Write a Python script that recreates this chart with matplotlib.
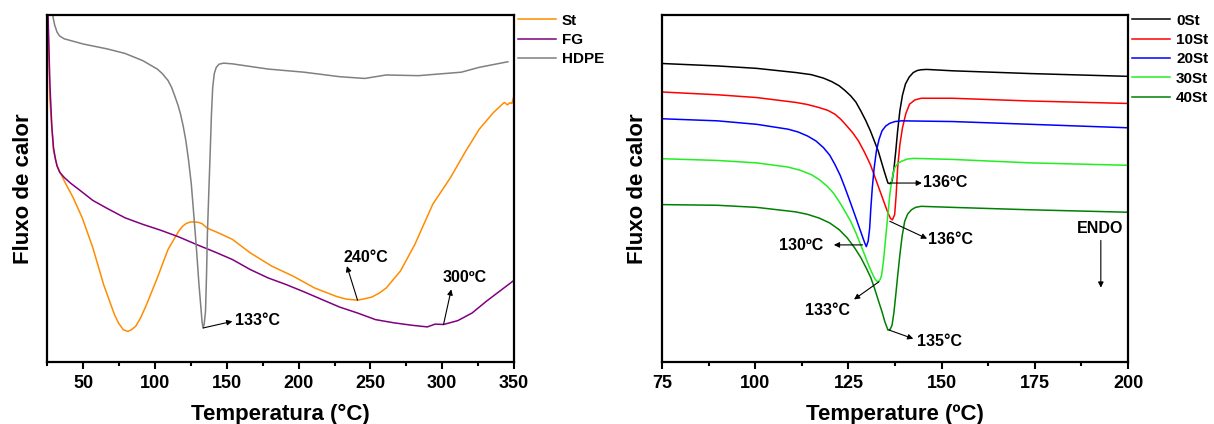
import matplotlib
matplotlib.use("Agg")
import matplotlib.pyplot as plt
from matplotlib.ticker import MultipleLocator

plt.rcParams['font.family'] = ['Liberation Sans', 'DejaVu Sans']
plt.rcParams['font.weight'] = 'bold'

# ---- left panel: raw materials (heat flow, arbitrary units 0-100) ----
hdpe_t = [27.5, 29, 30, 31.7, 33.5, 36.7, 50, 66.6, 79, 91.5, 101.5, 105, 109, 111.5, 114,
          116, 117.7, 119.5, 121.4, 123.3, 125.2, 127, 128.9, 130.5, 131.9, 132.7, 133.4,
          134.2, 135.1, 135.8, 136.4, 137.4, 138.4, 139.2, 140.1, 141.2, 142.6, 144.5,
          147.6, 153.8, 178.7, 203.7, 228.6, 246, 261, 283.4, 313.3, 325.8, 345.7]
hdpe_y = [104, 99, 97, 94.9, 93.8, 93.0, 91.5, 90.1, 88.8, 86.7, 84.3, 83.0, 81.0, 79.0, 76.2,
          73.8, 71.3, 68.0, 63.7, 58.0, 51.2, 42.0, 31.9, 22.5, 15.6, 11.5, 9.8,
          11.0, 14.6, 25.0, 36.7, 49.0, 60.8, 71.0, 79.0, 83.0, 84.8, 85.7,
          86.0, 85.8, 84.3, 83.4, 82.1, 81.6, 82.6, 82.4, 83.4, 84.8, 86.4]

st_t = [25, 26.7, 29.2, 31.7, 36.7, 42.9, 49.2, 56.6, 64.1, 71.6, 74.5, 77.8, 81, 83.5,
        86.5, 90, 94, 101.5, 109, 116.5, 119, 121.4, 124.5, 127.7, 130, 132.7, 136.4,
        143.9, 153.8, 166.3, 181.2, 196.2, 211.1, 226.1, 233, 241, 246, 251, 256, 261,
        270.9, 280.9, 293.4, 305.8, 315.8, 325.8, 335.7, 343.2, 345.5, 347, 348.5, 350]
st_y = [105, 75.2, 60.8, 56.4, 52.1, 47.3, 41.5, 32.9, 22.3, 13.7, 11.2, 9.3, 8.8, 9.3,
        10.3, 12.8, 16.5, 24.2, 32.4, 37.7, 39.0, 39.8, 40.3, 40.3, 40.2, 39.8, 38.5,
        37.2, 35.3, 31.4, 27.6, 24.7, 21.3, 18.9, 18.1, 17.8, 18.2, 18.7, 19.8, 21.3,
        26.2, 33.8, 45.4, 53.1, 60.3, 67.0, 71.8, 74.7, 74.0, 74.6, 74.4, 76.6]

fg_t = [25, 26.7, 28, 29.2, 30.5, 31.7, 33.5, 36.7, 41, 46.7, 56.6, 66.6, 79, 91.5, 104,
        116.5, 128.9, 141.4, 153.8, 166.3, 178.7, 191.2, 203.7, 216.1, 228.6, 241, 253.5,
        266, 278.4, 289.6, 295, 300.9, 310.8, 320.8, 330.8, 340.7, 350]
fg_y = [106, 80.0, 68.0, 61.7, 58.5, 56.4, 54.6, 53.1, 51.5, 49.7, 46.5, 44.2, 41.5, 39.6,
        37.9, 36.0, 33.8, 31.7, 29.5, 26.6, 24.2, 22.3, 20.2, 18.0, 15.8, 14.1, 12.2,
        11.3, 10.6, 10.1, 10.9, 10.8, 11.9, 14.1, 17.5, 20.6, 23.5]

# ---- right panel: HDPE/St blends ----
s0_t = [75, 89.9, 100.4, 110.9, 115, 118.3, 120.5, 122.5, 124, 125.6, 127, 128.3, 129.6,
        130.9, 133, 134.6, 135.6, 136.2, 136.7, 137.2, 137.7, 138.2, 138.8, 139.5, 140.3,
        141.3, 142.4, 143.5, 144.5, 146, 152.9, 173.9, 200]
s0_y = [85.9, 85.2, 84.5, 83.3, 82.7, 81.7, 80.7, 79.5, 78.2, 76.6, 74.8, 72.3, 69.6,
        66.5, 60.7, 54.9, 51.5, 51.3, 52.0, 55.5, 60.7, 66.5, 72.3, 76.8, 80.0,
        82.0, 83.3, 83.9, 84.1, 84.2, 83.8, 83.0, 82.2]

s10_t = [75, 89.9, 100.4, 110.9, 114, 117.2, 119.5, 121.4, 123, 124.6, 126.2, 127.7, 129.3,
         130.9, 133.5, 135.6, 136.3, 136.8, 137.4, 137.8, 138.2, 138.8, 139.5, 140.4,
         141.4, 142.8, 144.5, 152.9, 173.9, 200]
s10_y = [77.7, 76.9, 76.1, 74.7, 74.1, 73.2, 72.4, 71.3, 69.8, 67.9, 65.9, 63.6, 60.4,
         56.8, 49.1, 42.9, 41.3, 40.9, 42.4, 48.0, 55.9, 62.5, 67.4, 71.5,
         74.2, 75.4, 75.9, 75.9, 75.1, 74.4]

s20_t = [75, 89.9, 100.4, 108.8, 111.5, 114.1, 116.3, 118.3, 120, 121.4, 122.8, 124.1,
         125.4, 126.7, 128.6, 129.4, 129.8, 130.3, 130.7, 131, 131.4, 131.9, 132.5, 133.2,
         134, 135, 136.1, 137.5, 139.3, 152.9, 173.9, 200]
s20_y = [70.0, 69.4, 68.4, 67.0, 66.2, 65.0, 63.6, 61.7, 59.5, 56.8, 53.7, 50.1,
         46.3, 42.4, 36.6, 34.2, 33.2, 34.8, 38.5, 44.0, 50.1, 55.8, 60.7, 64.0,
         66.5, 67.9, 68.7, 69.2, 69.4, 69.2, 68.4, 67.4]

s30_t = [75, 89.9, 100.4, 108.8, 112, 115.1, 117.3, 119.3, 121, 122.5, 124, 125.6, 127,
         128.3, 129.4, 130.4, 131.3, 132, 132.6, 133, 133.5, 133.9, 134.4, 134.9, 135.5,
         136.1, 136.7, 137.4, 138.3, 139.3, 140.8, 142.4, 152.9, 173.9, 200]
s30_y = [58.5, 58.0, 57.3, 56.1, 55.2, 53.9, 52.4, 50.6, 48.6, 46.2, 43.5, 40.5, 37.2,
         33.7, 30.7, 27.9, 25.7, 24.1, 23.3, 23.1, 23.7, 25.0, 29.0, 34.7, 41.5,
         48.2, 52.8, 55.9, 57.2, 57.8, 58.4, 58.6, 58.3, 57.3, 56.6]

s40_t = [75, 89.9, 100.4, 110.9, 114, 117.2, 120, 122.5, 124.7, 126.7, 128.3, 129.8, 131,
         132, 133, 134, 134.8, 135.6, 136.2, 136.7, 137.2, 137.7, 138.2, 138.8, 139.4,
         140.1, 140.9, 141.9, 143, 144.5, 152.9, 173.9, 200]
s40_y = [45.3, 45.1, 44.5, 43.2, 42.5, 41.4, 40.0, 38.1, 35.7, 32.8, 30.1, 27.0, 24.3,
         21.2, 17.8, 14.5, 11.5, 9.2, 9.4, 10.6, 14.2, 19.3, 24.7, 30.8, 36.2,
         40.5, 42.6, 43.8, 44.5, 44.8, 44.5, 43.8, 43.1]

fig = plt.figure(figsize=(12.14, 4.24), dpi=100)
ax1 = fig.add_axes([0.0391, 0.1462, 0.3843, 0.8196])
ax2 = fig.add_axes([0.5453, 0.1462, 0.3839, 0.8196])

ax1.plot(st_t, st_y, color='#FF8C00', lw=1.1, label='St')
ax1.plot(fg_t, fg_y, color='#800080', lw=1.1, label='FG')
ax1.plot(hdpe_t, hdpe_y, color='#808080', lw=1.1, label='HDPE')

ax2.plot(s0_t, s0_y, color='black', lw=1.1, label='0St')
ax2.plot(s10_t, s10_y, color='#FF0000', lw=1.1, label='10St')
ax2.plot(s20_t, s20_y, color='#0000FF', lw=1.1, label='20St')
ax2.plot(s30_t, s30_y, color='#22EE22', lw=1.1, label='30St')
ax2.plot(s40_t, s40_y, color='#008000', lw=1.1, label='40St')

ax1.set_xlim(25, 350)
ax2.set_xlim(75, 200)
ax1.xaxis.set_major_locator(MultipleLocator(50))
ax1.xaxis.set_minor_locator(MultipleLocator(25))
ax2.xaxis.set_major_locator(MultipleLocator(25))
ax2.xaxis.set_minor_locator(MultipleLocator(12.5))
ax1.set_xlabel('Temperatura (°C)', fontsize=16, fontweight='bold', labelpad=9)
ax2.set_xlabel('Temperature (ºC)', fontsize=16, fontweight='bold', labelpad=9)

for ax in (ax1, ax2):
    ax.set_ylim(0, 100)
    ax.set_yticks([])
    ax.set_ylabel('Fluxo de calor', fontsize=16, fontweight='bold', labelpad=10)
    for sp in ax.spines.values():
        sp.set_linewidth(1.6)
    ax.tick_params(axis='x', which='major', length=5, width=1.5, labelsize=13, pad=4)
    ax.tick_params(axis='x', which='minor', length=3, width=1.5)
    for lb in ax.get_xticklabels():
        lb.set_fontweight('bold')
    ax.legend(loc='upper left', bbox_to_anchor=(0.995, 1.02), frameon=False,
              handlelength=2.5, handletextpad=0.4, labelspacing=0.35,
              borderaxespad=0, prop={'weight': 'bold', 'size': 11})

arrow = dict(arrowstyle='-|>', color='black', lw=0.8, mutation_scale=8, shrinkA=0, shrinkB=0)
fs = 11.5

# left annotations
ax1.annotate('', xy=(153.8, 11.7), xytext=(133.5, 9.8), arrowprops=arrow)
ax1.text(155.5, 11.9, '133°C', fontsize=fs, fontweight='bold', va='center', ha='left')
ax1.annotate('', xy=(233.6, 27.6), xytext=(241, 17.8), arrowprops=arrow)
ax1.text(247, 30.2, '240°C', fontsize=fs, fontweight='bold', va='center', ha='center')
ax1.annotate('', xy=(306.3, 20.9), xytext=(300.9, 10.8), arrowprops=arrow)
ax1.text(315.8, 24.2, '300ºC', fontsize=fs, fontweight='bold', va='center', ha='center')

# right annotations
ax2.annotate('', xy=(144.7, 51.5), xytext=(136.1, 51.5), arrowprops=arrow)
ax2.text(145.0, 51.8, '136ºC', fontsize=fs, fontweight='bold', va='center', ha='left')
ax2.annotate('', xy=(146.1, 35.5), xytext=(136.1, 40.5), arrowprops=arrow)
ax2.text(146.4, 35.2, '136°C', fontsize=fs, fontweight='bold', va='center', ha='left')
ax2.annotate('', xy=(121.1, 33.7), xytext=(128.8, 33.7), arrowprops=arrow)
ax2.text(118.3, 33.4, '130ºC', fontsize=fs, fontweight='bold', va='center', ha='right')
ax2.annotate('', xy=(126.5, 18.0), xytext=(133.2, 23.1), arrowprops=arrow)
ax2.text(119.5, 14.9, '133°C', fontsize=fs, fontweight='bold', va='center', ha='center')
ax2.annotate('', xy=(142.4, 6.7), xytext=(135.9, 9.2), arrowprops=arrow)
ax2.text(143.3, 6.0, '135°C', fontsize=fs, fontweight='bold', va='center', ha='left')
ax2.text(192.6, 38.3, 'ENDO', fontsize=fs, fontweight='bold', va='center', ha='center')
ax2.annotate('', xy=(192.7, 21.4), xytext=(192.7, 35.0), arrowprops=arrow)

fig.savefig('out.png', dpi=100)
